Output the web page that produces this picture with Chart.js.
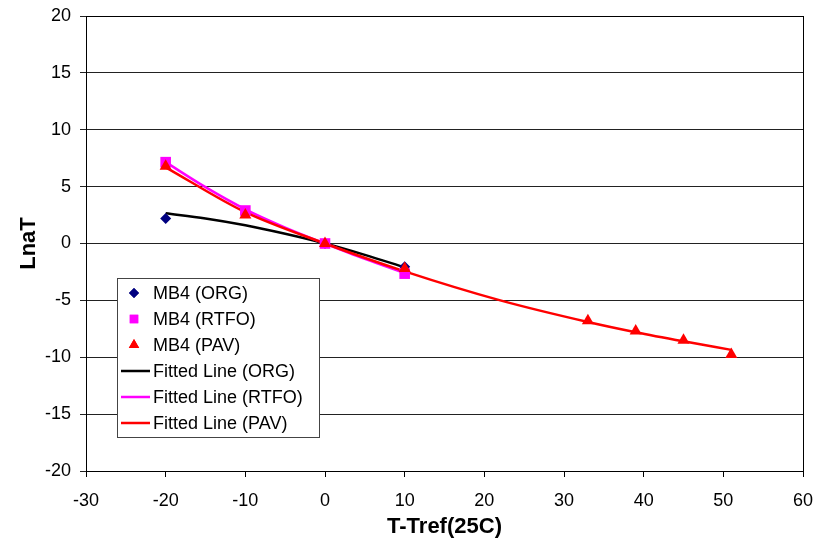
<!DOCTYPE html>
<html>
<head>
<meta charset="utf-8">
<script src="https://cdn.jsdelivr.net/npm/chart.js@4.4.1/dist/chart.umd.min.js"></script>
<style>
  body { margin: 0; background: #fff; }
  #wrap { width: 828px; height: 543px; }
</style>
</head>
<body>
<div id="wrap"><canvas id="myChart" width="828" height="543"></canvas></div>
<script>
// measured shift factors, T - Tref in C
const orgX = [-20, 0, 10];
const orgY = [2.2, 0, -2.05];
const rtfoX = [-20, -10, 0, 10];
const rtfoY = [7.15, 2.9, 0, -2.65];
const pavX = [-20, -10, 0, 10, 33, 39, 45, 51];
const pavY = [6.8, 2.5, 0, -2.2, -6.8, -7.7, -8.5, -9.75];

// fitted curves, read at a few temperatures
const orgFitX = [-20, -15, -10, -5, 0, 5, 10];
const orgFitY = [2.65, 2.2, 1.6, 0.85, 0, -1.0, -2.1];
const rtfoFitX = [-20, -15, -10, -5, 0, 5, 10];
const rtfoFitY = [7.15, 4.95, 3.0, 1.4, 0, -1.35, -2.6];
const pavFitX = [-20, -10, 0, 10, 22, 33, 39, 45, 51];
const pavFitY = [6.7, 2.75, 0, -2.45, -5.0, -6.9, -7.8, -8.6, -9.35];

const xTicks = [-30, -20, -10, 0, 10, 20, 30, 40, 50, 60];
const yTicks = [-20, -15, -10, -5, 0, 5, 10, 15, 20];

const pts = (xs, ys) => xs.map((x, i) => ({ x: x, y: ys[i] }));

const FONT = "'Liberation Sans', Arial, sans-serif";

const markerSet = (label, xs, ys, style, color, r, order) => ({
  label: label,
  data: pts(xs, ys),
  showLine: false,
  pointStyle: style,
  pointRadius: r,
  pointBackgroundColor: color,
  pointBorderColor: color,
  pointBorderWidth: 0,
  order: order
});

const fitSet = (label, xs, ys, color, order) => ({
  label: label,
  data: pts(xs, ys),
  showLine: true,
  borderColor: color,
  borderWidth: 2.5,
  pointRadius: 0,
  tension: 0.4,
  cubicInterpolationMode: "monotone",
  order: order
});

// legend box drawn inside the plot, Excel style
const boxLegend = {
  id: "boxLegend",
  afterDraw(chart) {
    const ctx = chart.ctx;
    const left = 117, top = 278, w = 202, h = 159, step = 26;
    ctx.save();
    ctx.fillStyle = "#fff";
    ctx.fillRect(left, top, w, h);
    ctx.strokeStyle = "#444";
    ctx.lineWidth = 1;
    ctx.strokeRect(left + 0.5, top + 0.5, w, h);
    ctx.font = "18px " + FONT;
    ctx.textBaseline = "middle";
    chart.data.datasets.forEach((ds, i) => {
      const cy = top + 15 + i * step;
      if (ds.showLine) {
        ctx.strokeStyle = ds.borderColor;
        ctx.lineWidth = 2.5;
        ctx.beginPath();
        ctx.moveTo(left + 4, cy);
        ctx.lineTo(left + 33, cy);
        ctx.stroke();
      } else {
        ctx.fillStyle = ds.pointBackgroundColor;
        const r = ds.pointStyle === "rectRot" ? 5 : 6;
        Chart.helpers.drawPoint(ctx, { pointStyle: ds.pointStyle, radius: r, rotation: 0, borderWidth: 0 }, left + 17, cy);
        ctx.fill();
      }
      ctx.fillStyle = "#000";
      ctx.fillText(ds.label, left + 36, cy + 1);
    });
    ctx.restore();
  }
};

// closes the plot frame on the top and right side
const frame = {
  id: "frame",
  beforeDatasetsDraw(chart) {
    const a = chart.chartArea;
    const ctx = chart.ctx;
    ctx.save();
    ctx.strokeStyle = "#000";
    ctx.lineWidth = 1;
    ctx.strokeRect(Math.round(a.left) + 0.5, Math.round(a.top) + 0.5, Math.round(a.right - a.left), Math.round(a.bottom - a.top));
    ctx.restore();
  }
};

const ctx = document.getElementById("myChart");

new Chart(ctx, {
  type: "scatter",
  data: {
    datasets: [
      markerSet("MB4 (ORG)", orgX, orgY, "rectRot", "#000080", 5.5, 2),
      markerSet("MB4 (RTFO)", rtfoX, rtfoY, "rect", "#ff00ff", 7.5, 1),
      markerSet("MB4 (PAV)", pavX, pavY, "triangle", "#ff0000", 7, 0),
      fitSet("Fitted Line (ORG)", orgFitX, orgFitY, "#000000", 5),
      fitSet("Fitted Line (RTFO)", rtfoFitX, rtfoFitY, "#ff00ff", 4),
      fitSet("Fitted Line (PAV)", pavFitX, pavFitY, "#ff0000", 3)
    ]
  },
  options: {
    responsive: false,
    animation: false,
    layout: { padding: { top: 16, right: 25, left: 0, bottom: 0 } },
    plugins: {
      legend: { display: false },
      tooltip: { enabled: false }
    },
    scales: {
      x: {
        type: "linear",
        min: -30,
        max: 60,
        afterBuildTicks: (s) => { s.ticks = xTicks.map(v => ({ value: v })); },
        afterFit: (s) => { s.height = 72; },
        grid: { drawOnChartArea: false, drawTicks: true, tickLength: 6, color: "#000" },
        border: { color: "#000", width: 1 },
        ticks: { color: "#000", font: { family: FONT, size: 18 }, padding: 13, maxRotation: 0 },
        title: { display: true, text: "T-Tref(25C)", color: "#000", font: { family: FONT, size: 22, weight: "bold" }, padding: { top: 0, bottom: 3 } }
      },
      y: {
        type: "linear",
        min: -20,
        max: 20,
        afterBuildTicks: (s) => { s.ticks = yTicks.map(v => ({ value: v })); },
        afterFit: (s) => {
          s.width = 86;
          s.paddingTop = 0;
          s.paddingBottom = 0;
        },
        grid: { drawTicks: true, tickLength: 6, color: "#222", lineWidth: 1 },
        border: { color: "#000", width: 1 },
        ticks: { color: "#000", font: { family: FONT, size: 18 }, padding: 9 },
        title: { display: true, text: "LnaT", color: "#000", font: { family: FONT, size: 22, weight: "bold" }, padding: { top: 16, bottom: 0 } }
      }
    }
  },
  plugins: [frame, boxLegend]
});
</script>
</body>
</html>
